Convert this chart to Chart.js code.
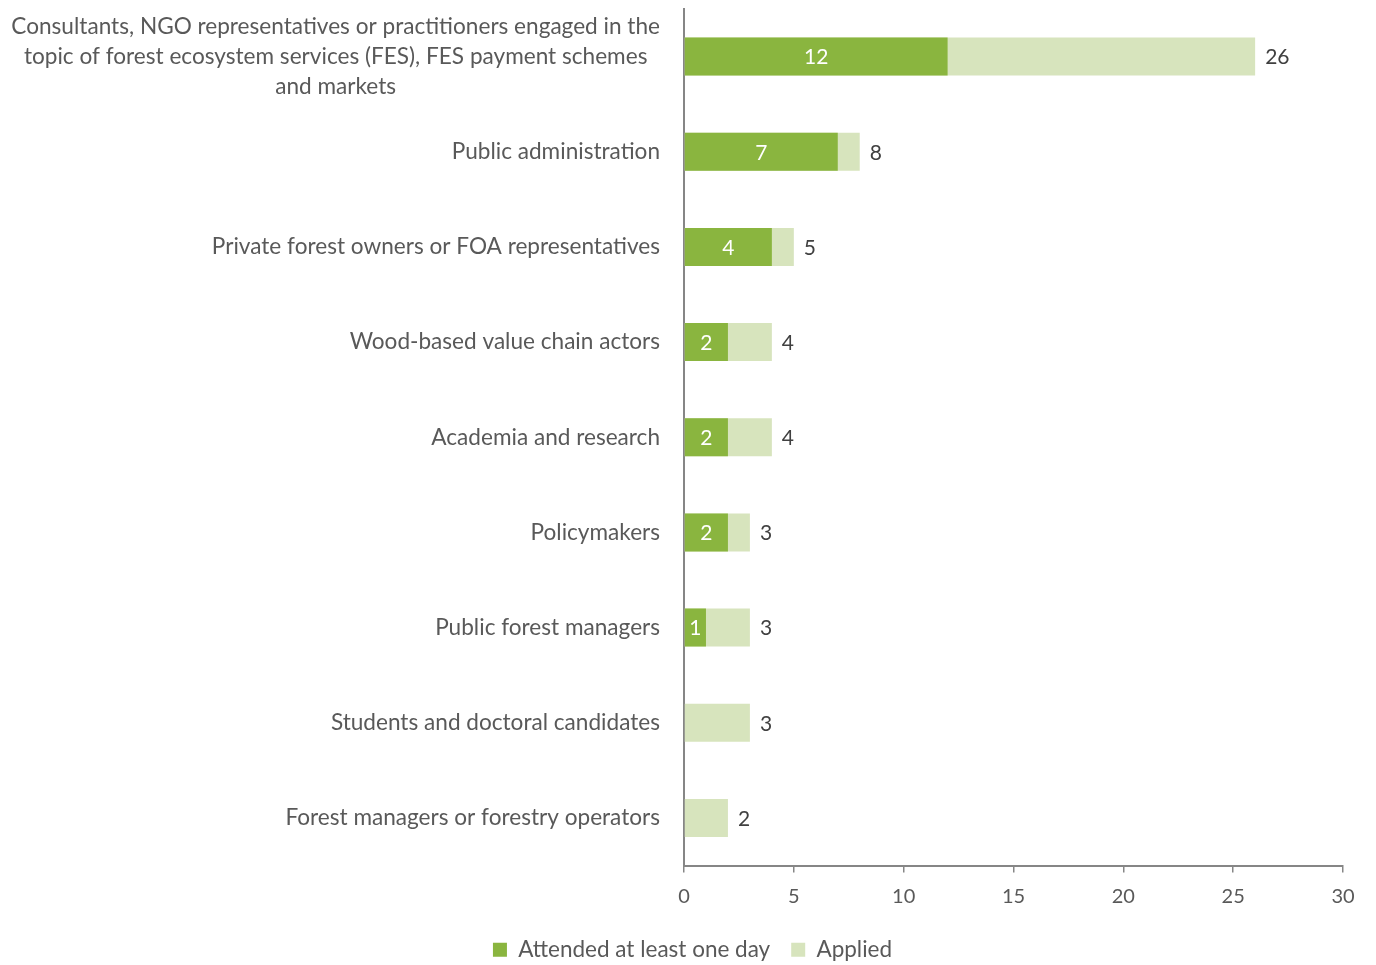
<!DOCTYPE html>
<html>
<head>
<meta charset="utf-8">
<script src="https://cdn.jsdelivr.net/npm/chart.js@4.4.0/dist/chart.umd.min.js"></script>
<style>
  body { margin: 0; background: #fff; }
</style>
</head>
<body>
<canvas id="chart" width="1376" height="965"></canvas>
<script>
// ---------- Data ----------
const categories = [
  ['Consultants, NGO representatives or practitioners engaged in the',
   'topic of forest ecosystem services (FES), FES payment schemes',
   'and markets'],
  'Public administration',
  'Private forest owners or FOA representatives',
  'Wood-based value chain actors',
  'Academia and research',
  'Policymakers',
  'Public forest managers',
  'Students and doctoral candidates',
  'Forest managers or forestry operators'
];
const attended = [12, 7, 4, 2, 2, 2, 1, 0, 0];
const applied = [26, 8, 5, 4, 4, 3, 3, 3, 2];
const xTicks = [0, 5, 10, 15, 20, 25, 30];

const FONT = 'Lato';
const TEXT = '#595959';
const AXIS = '#868686';

// Draw category labels and value labels
const labelPlugin = {
  id: 'labels',
  afterDatasetsDraw(chart) {
    const ctx = chart.ctx;
    const yScale = chart.scales.y;
    const area = chart.chartArea;
    ctx.save();
    ctx.textBaseline = 'middle';

    // category labels (block right aligned, lines centered)
    ctx.font = '22.6px ' + FONT;
    ctx.fillStyle = TEXT;
    ctx.textAlign = 'center';
    categories.forEach((cat, i) => {
      const lines = Array.isArray(cat) ? cat : [cat];
      const w = Math.max(...lines.map(l => ctx.measureText(l).width));
      const cx = area.left - 24 - w / 2;
      const yc = yScale.getPixelForValue(i);
      lines.forEach((l, j) => {
        ctx.fillText(l, cx, yc + (j - (lines.length - 1) / 2) * 30);
      });
    });

    // values
    ctx.font = '21px ' + FONT;
    const attMeta = chart.getDatasetMeta(0);
    const appliedMeta = chart.getDatasetMeta(1);
    appliedMeta.data.forEach((bar, i) => {
      ctx.fillStyle = '#404040';
      ctx.textAlign = 'left';
      ctx.fillText(applied[i], bar.x + 10, bar.y + 1);
    });
    attMeta.data.forEach((bar, i) => {
      if (!attended[i]) return;
      ctx.fillStyle = '#ffffff';
      ctx.textAlign = 'center';
      ctx.fillText(attended[i], (bar.base + bar.x) / 2, bar.y + 1);
    });
    ctx.restore();
  }
};

const ctx = document.getElementById('chart').getContext('2d');
new Chart(ctx, {
  type: 'bar',
  data: {
    labels: categories,
    datasets: [
      {
        label: 'Attended at least one day',
        data: attended,
        backgroundColor: '#8ab53f',
        barPercentage: 0.4,
        categoryPercentage: 1
      },
      {
        label: 'Applied',
        data: applied,
        backgroundColor: '#d7e4bd',
        barPercentage: 0.4,
        categoryPercentage: 1
      }
    ]
  },
  options: {
    indexAxis: 'y',
    responsive: false,
    animation: false,
    layout: { padding: { left: 42, right: 33, top: 9, bottom: -6 } },
    scales: {
      x: {
        min: 0,
        max: 30,
        afterBuildTicks: axis => { axis.ticks = xTicks.map(v => ({ value: v })); },
        afterFit: axis => { axis.height = 52; },
        border: { display: true, color: AXIS, width: 2 },
        grid: { display: true, drawOnChartArea: false, drawTicks: true, tickLength: 7, color: AXIS, lineWidth: 1.5 },
        ticks: { color: TEXT, font: { family: FONT, size: 20, lineHeight: 0.8 }, padding: 16 }
      },
      y: {
        stacked: true,
        afterFit: axis => { axis.width = 642; },
        border: { display: true, color: AXIS, width: 2 },
        grid: { display: false },
        ticks: { display: false }
      }
    },
    plugins: {
      legend: {
        position: 'bottom',
        labels: {
          color: TEXT,
          font: { family: FONT, size: 22.5 },
          boxWidth: 14,
          boxHeight: 14,
          padding: 21
        }
      },
      tooltip: { enabled: false }
    }
  },
  plugins: [labelPlugin]
});
</script>
</body>
</html>
